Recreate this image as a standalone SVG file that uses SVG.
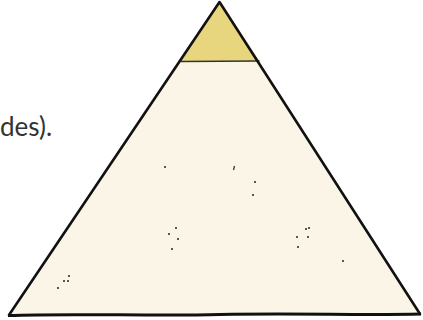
<svg xmlns="http://www.w3.org/2000/svg" width="423" height="320" viewBox="0 0 423 320">
<style>
.edge{fill:none;stroke:#111;stroke-width:2.6;stroke-linejoin:round;stroke-linecap:round}
.speck{fill:#222}
.lbl{font-family:Lato,"Open Sans","DejaVu Sans",sans-serif;font-size:26px;fill:#333333}
</style>
<rect width="423" height="320" fill="#ffffff"/>
<g id="label">
<text class="lbl" x="0" y="136">des).</text>
</g>
<g id="pyramid">
<polygon points="219.5,2 420,314 9,315" fill="#faf5e6"/>
<polygon points="219.5,2 259.5,61 181,61" fill="#e7d67d"/>
<line x1="181" y1="61.5" x2="259.5" y2="61" stroke="#333" stroke-width="1.6"/>
<path class="edge" d="M9,315 L219.5,2 L420,314"/>
<path d="M8,315.5 C80,313 150,316.5 220,314.5 C300,313 360,315.5 421,314" fill="none" stroke="#111" stroke-width="3"/>
</g>
<g id="specks">
<circle class="speck" cx="165" cy="167" r="1"/>
<line x1="234.5" y1="166" x2="233.5" y2="170" stroke="#222" stroke-width="1.2"/>
<circle class="speck" cx="255" cy="182" r="1"/>
<circle class="speck" cx="253" cy="195" r="1"/>
<circle class="speck" cx="176" cy="228" r="1"/>
<circle class="speck" cx="169" cy="234" r="1"/>
<circle class="speck" cx="178" cy="239" r="1"/>
<circle class="speck" cx="172" cy="249" r="1"/>
<circle class="speck" cx="306" cy="229" r="1"/>
<circle class="speck" cx="309" cy="228" r="1"/>
<circle class="speck" cx="297" cy="237" r="1"/>
<circle class="speck" cx="308" cy="237" r="1"/>
<circle class="speck" cx="298" cy="247" r="1"/>
<circle class="speck" cx="343" cy="261" r="1"/>
<circle class="speck" cx="58" cy="288" r="1"/>
<circle class="speck" cx="64" cy="281" r="1"/>
<circle class="speck" cx="68" cy="281" r="1"/>
<circle class="speck" cx="69" cy="276" r="1"/>
</g>
</svg>
